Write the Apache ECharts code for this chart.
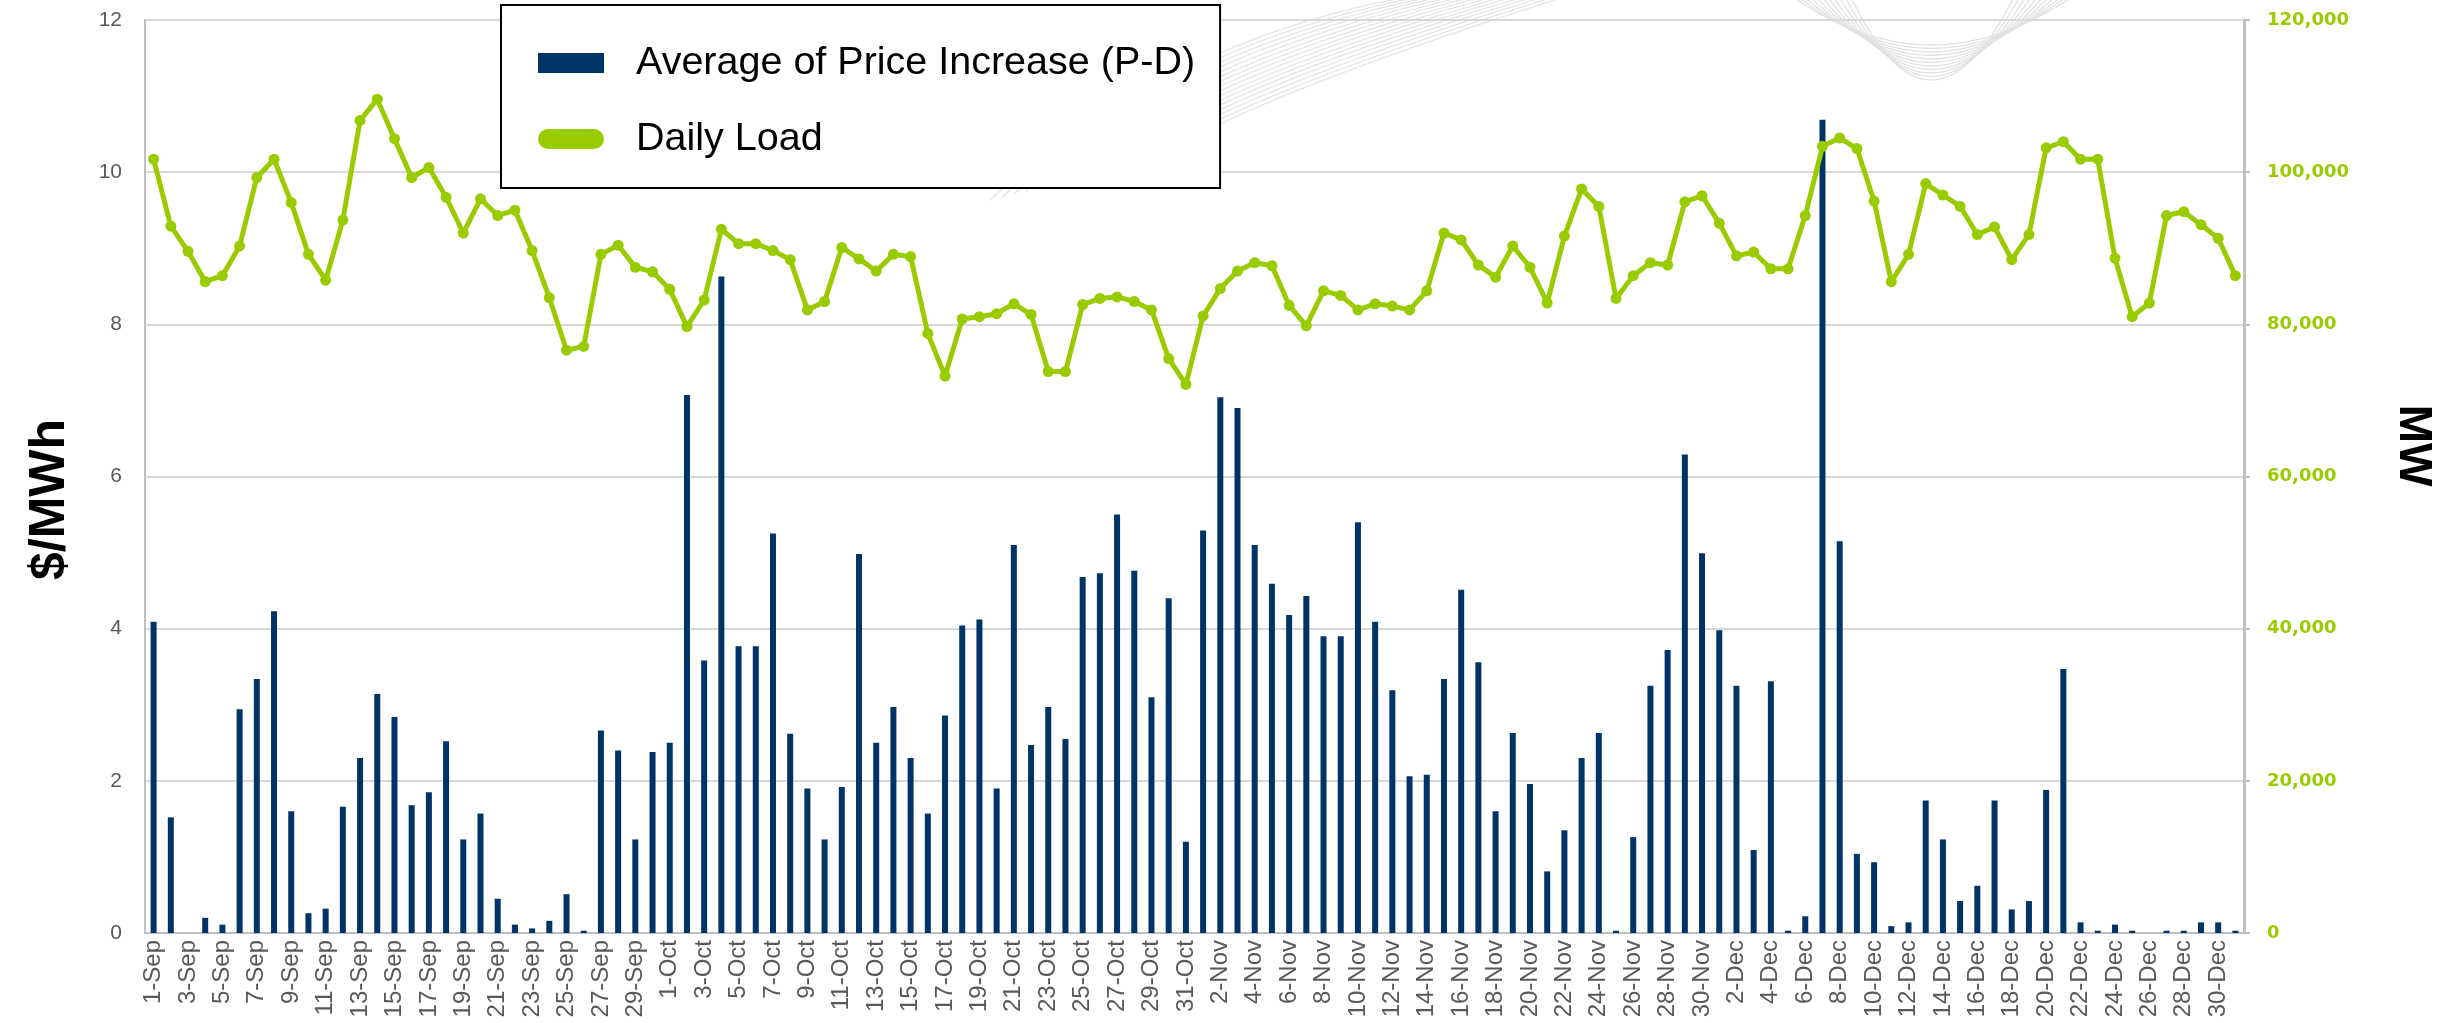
<!DOCTYPE html>
<html>
<head>
<meta charset="utf-8">
<script src="https://cdn.jsdelivr.net/npm/echarts@6/dist/echarts.min.js"></script>
<style>
  html, body { margin: 0; padding: 0; background: #fff; }
  #main { width: 2461px; height: 1023px; }
</style>
</head>
<body>
<div id="main"></div>
<script>
// categories: 1-Sep .. 31-Dec
const monthNames = ["Sep", "Oct", "Nov", "Dec"]
const monthLengths = [30, 31, 30, 31]
const dates = []
monthNames.forEach((m, i) => {
  for (let d = 1; d <= monthLengths[i]; d++) dates.push(d + "-" + m)
})

// $/MWh
const priceSep = [4.09, 1.52, 0, 0.2, 0.11, 2.94, 3.34, 4.23, 1.6, 0.26, 0.32, 1.66, 2.3, 3.14, 2.84, 1.68, 1.85, 2.52, 1.23, 1.57, 0.45, 0.11, 0.06, 0.16, 0.51, 0.03, 2.66, 2.4, 1.23, 2.38]
const priceOct = [2.5, 7.07, 3.58, 8.63, 3.77, 3.77, 5.25, 2.62, 1.9, 1.23, 1.92, 4.98, 2.5, 2.97, 2.3, 1.57, 2.86, 4.04, 4.12, 1.9, 5.1, 2.47, 2.97, 2.55, 4.68, 4.73, 5.5, 4.76, 3.1, 4.4, 1.2]
const priceNov = [5.29, 7.04, 6.9, 5.1, 4.59, 4.18, 4.43, 3.9, 3.9, 5.4, 4.09, 3.19, 2.06, 2.08, 3.34, 4.51, 3.56, 1.6, 2.63, 1.96, 0.81, 1.35, 2.3, 2.63, 0.03, 1.26, 3.25, 3.72, 6.29, 4.99]
const priceDec = [3.98, 3.25, 1.09, 3.31, 0.03, 0.22, 10.69, 5.15, 1.04, 0.93, 0.09, 0.14, 1.74, 1.23, 0.42, 0.62, 1.74, 0.31, 0.42, 1.88, 3.47, 0.14, 0.03, 0.11, 0.03, 0, 0.03, 0.03, 0.14, 0.14, 0.03]

// MW
const loadSep = [101700, 92900, 89600, 85600, 86400, 90300, 99300, 101700, 96000, 89200, 85800, 93700, 106800, 109600, 104400, 99300, 100600, 96700, 92000, 96500, 94300, 95000, 89700, 83500, 76600, 77100, 89200, 90400, 87500, 86900]
const loadOct = [84600, 79700, 83200, 92500, 90600, 90600, 89700, 88500, 81900, 83000, 90100, 88600, 87000, 89200, 88900, 78800, 73200, 80700, 81000, 81400, 82700, 81300, 73800, 73800, 82600, 83400, 83600, 83000, 81900, 75500, 72100]
const loadNov = [81100, 84700, 87000, 88100, 87700, 82500, 79800, 84400, 83800, 81900, 82700, 82400, 81900, 84400, 92000, 91100, 87800, 86200, 90300, 87500, 82800, 91600, 97800, 95500, 83400, 86400, 88100, 87800, 96100, 96900]
const loadDec = [93300, 89000, 89500, 87300, 87300, 94300, 103400, 104500, 103100, 96200, 85600, 89200, 98500, 97000, 95500, 91800, 92800, 88500, 91800, 103200, 104000, 101700, 101700, 88700, 81000, 82800, 94300, 94800, 93100, 91300, 86400]

const price = [].concat(priceSep, priceOct, priceNov, priceDec)
const load = [].concat(loadSep, loadOct, loadNov, loadDec)

const chart = echarts.init(document.getElementById("main"))

// faint swoosh curves in the background
const swoosh = []
for (let k = 0; k < 16; k++) {
  swoosh.push({
    type: "bezierCurve",
    silent: true,
    z: 0,
    shape: {
      x1: 990 + 12 * k, y1: 200 - 3 * k,
      cpx1: 1100 + 5 * k, cpy1: 100 + 3 * k,
      cpx2: 1250, cpy2: 22 + 5 * k,
      x2: 1420 + 10 * k, y2: -5,
    },
    style: { stroke: "#e4e4e4", lineWidth: 1.2, fill: null },
  })
}
for (let k = 0; k < 11; k++) {
  const bottom = 45 + 3.5 * k
  swoosh.push({
    type: "bezierCurve",
    silent: true,
    z: 0,
    shape: { x1: 1790 + 6 * k, y1: -5, cpx1: 1930, cpy1: 2 * bottom + 5, x2: 2075 - 6 * k, y2: -5 },
    style: { stroke: "#e2e2e2", lineWidth: 1.3, fill: null },
  })
}

const option = {
  backgroundColor: "#ffffff",
  animation: false,
  graphic: swoosh,
  grid: { left: 145, right: 217, top: 20, bottom: 90 },
  legend: {
    orient: "vertical",
    left: 501,
    top: 5,
    padding: [38, 25, 29, 37],
    itemGap: 36,
    itemWidth: 66,
    itemHeight: 20,
    borderColor: "#000",
    borderWidth: 2,
    backgroundColor: "#fff",
    textStyle: {
      fontFamily: "Liberation Sans",
      fontSize: 39.5,
      color: "#000",
      padding: [0, 0, 0, 27],
    },
    data: [
      { name: "Average of Price Increase (P-D)", icon: "rect" },
      { name: "Daily Load", icon: "path://M10,0 H56 A10,10 0 0 1 56,20 H10 A10,10 0 0 1 10,0 Z" },
    ],
  },
  xAxis: {
    type: "category",
    data: dates,
    boundaryGap: true,
    axisLine: { lineStyle: { color: "#bfbfbf", width: 2 } },
    axisTick: { show: false },
    axisLabel: {
      interval: 1,
      rotate: 90,
      margin: 7,
      color: "#595959",
      fontFamily: "Liberation Sans Narrow, Liberation Sans",
      fontSize: 24,
    },
  },
  yAxis: [
    {
      type: "value",
      min: 0,
      max: 12,
      interval: 2,
      name: "$/MWh",
      nameLocation: "middle",
      nameGap: 70,
      nameTextStyle: {
        fontFamily: "Liberation Sans",
        fontWeight: "bold",
        fontSize: 50,
        color: "#000",
        padding: [0, 46, 0, 0],
      },
      axisLine: { show: true, lineStyle: { color: "#bfbfbf", width: 2 } },
      axisTick: { show: false },
      axisLabel: { margin: 23, color: "#595959", fontFamily: "Liberation Sans", fontSize: 21 },
      splitLine: { lineStyle: { color: "#d9d9d9", width: 2 } },
    },
    {
      type: "value",
      min: 0,
      max: 120000,
      interval: 20000,
      position: "right",
      name: "MW",
      nameLocation: "middle",
      nameGap: 146,
      nameRotate: -90,
      nameTextStyle: {
        fontFamily: "Liberation Sans",
        fontWeight: "bold",
        fontSize: 46,
        color: "#000",
        padding: [0, 62, 0, 0],
      },
      axisLine: { show: true, lineStyle: { color: "#bfbfbf", width: 3 } },
      axisTick: { show: true, length: 6, lineStyle: { color: "#bfbfbf", width: 2 } },
      axisLabel: {
        margin: 23,
        color: "#99cc00",
        fontFamily: "DejaVu Sans",
        fontWeight: "bold",
        fontSize: 18,
        formatter: v => v.toLocaleString("en-US"),
      },
      splitLine: { show: false },
    },
  ],
  series: [
    {
      name: "Average of Price Increase (P-D)",
      type: "bar",
      yAxisIndex: 0,
      data: price,
      barWidth: 6,
      itemStyle: { color: "#003366" },
    },
    {
      name: "Daily Load",
      type: "line",
      yAxisIndex: 1,
      data: load,
      symbol: "circle",
      symbolSize: 11,
      lineStyle: { color: "#99cc00", width: 5 },
      itemStyle: { color: "#99cc00" },
      z: 3,
    },
  ],
}

chart.setOption(option)
</script>
</body>
</html>
